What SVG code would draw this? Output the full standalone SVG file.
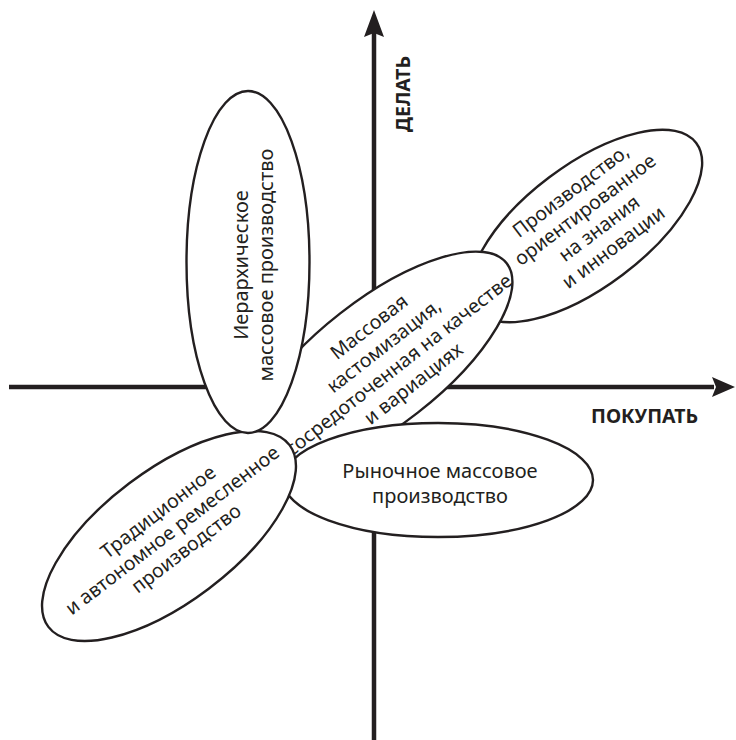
<svg xmlns="http://www.w3.org/2000/svg" width="736" height="740" viewBox="0 0 736 740">
<style>
.axis{stroke:#231f20;stroke-width:4.5;fill:none}
.head{fill:#231f20}
.node{fill:#fff;stroke:#231f20;stroke-width:2.4}
.t{font-family:"Noto Sans","Open Sans","DejaVu Sans",sans-serif;font-size:20px;fill:#231f20;text-anchor:middle}
.s{font-size:19.5px}
.lab{font-family:"Noto Sans","DejaVu Sans",sans-serif;font-size:19.5px;font-weight:700;fill:#231f20}
</style>
<rect width="736" height="740" fill="#fff"/>
<g id="connectors">
<line class="axis" x1="374" y1="740" x2="374" y2="32"/>
<polygon class="head" points="374,10 384,37 374,33 364,37"/>
<line class="axis" x1="9" y1="387" x2="714" y2="387"/>
<polygon class="head" points="735,387 712,377 716,387 712,397"/>
</g>
<g id="axis-labels">
<text class="lab" transform="translate(410,94) rotate(-90)" text-anchor="middle">ДЕЛАТЬ</text>
<text class="lab" x="698" y="423" text-anchor="end">ПОКУПАТЬ</text>
</g>
<g id="knowledge">
<ellipse class="node" cx="0" cy="0" rx="138" ry="61" transform="translate(586,226) rotate(-37)"/>
<g transform="translate(592,219) rotate(-37)">
<text class="t s" x="0" y="-28.5">Производство,</text>
<text class="t s" x="0" y="-5">ориентированное</text>
<text class="t s" x="0" y="18.5">на знания</text>
<text class="t s" x="0" y="42">и инновации</text>
</g>
</g>
<g id="customization">
<ellipse class="node" cx="0" cy="0" rx="162" ry="63" transform="translate(379,363) rotate(-38)"/>
<g transform="translate(391,355) rotate(-38)">
<text class="t s" x="0" y="-29">Массовая</text>
<text class="t s" x="0" y="-5">кастомизация,</text>
<text class="t s" x="0" y="19">сосредоточенная на качестве</text>
<text class="t s" x="0" y="43">и вариациях</text>
</g>
</g>
<g id="market">
<ellipse class="node" cx="438" cy="480" rx="155" ry="57"/>
<text class="t" x="440" y="478">Рыночное массовое</text>
<text class="t" x="440" y="503">производство</text>
</g>
<g id="traditional">
<ellipse class="node" cx="0" cy="0" rx="151" ry="66" transform="translate(169,536) rotate(-37)"/>
<g transform="translate(172,530) rotate(-37.5)">
<text class="t s" x="0" y="-16">Традиционное</text>
<text class="t s" x="0" y="7">и автономное ремесленное</text>
<text class="t s" x="0" y="30">производство</text>
</g>
</g>
<g id="hierarchical">
<ellipse class="node" cx="248" cy="262" rx="61.5" ry="171"/>
<g transform="translate(253,265) rotate(-90)">
<text class="t" x="0" y="-5.5">Иерархическое</text>
<text class="t" x="0" y="19.5">массовое производство</text>
</g>
</g>
</svg>
